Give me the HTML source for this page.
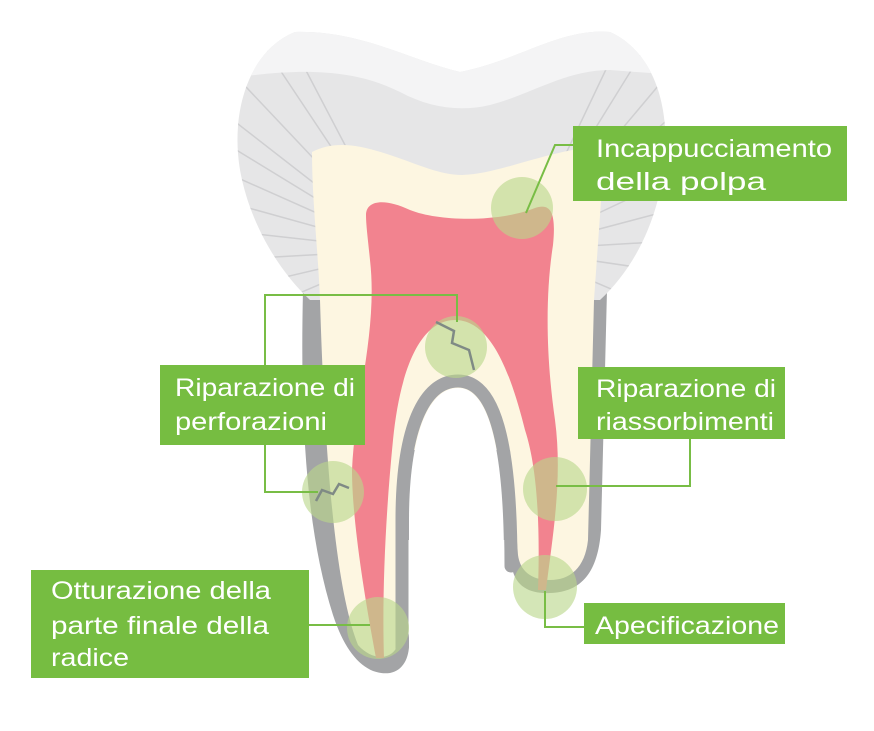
<!DOCTYPE html>
<html><head><meta charset="utf-8"><style>html,body{margin:0;padding:0;background:#fff}svg{display:block}</style></head>
<body>
<svg width="874" height="731" viewBox="0 0 874 731" xmlns="http://www.w3.org/2000/svg">
<defs>
<clipPath id="en"><path d="M295,32 C360,30 410,60 460,72 C520,60 560,28 610,32 C650,50 672,100 664,170 C655,230 630,272 600,300 L310,300 C280,272 250,225 240,170 C230,110 250,50 295,32 Z"/></clipPath>
</defs>
<!-- root grey -->
<path d="M303,290 C300,420 306,530 333,615 C346,655 366,676 390,673 C406,670 412,652 408,630 L402,540 L510,540 L512,568 C516,588 532,594 550,593 C582,592 598,572 601,530 L607,290 Z" fill="#a3a4a6"/>
<!-- enamel -->
<g clip-path="url(#en)">
<rect x="220" y="20" width="460" height="290" fill="#e6e6e7"/>
<g stroke="#cfcfd1" stroke-width="1.5">
<line x1="400" y1="250" x2="260" y2="40"/><line x1="400" y1="250" x2="290" y2="40"/><line x1="400" y1="250" x2="230" y2="70"/>
<line x1="400" y1="250" x2="220" y2="110"/><line x1="400" y1="250" x2="220" y2="140"/><line x1="400" y1="250" x2="220" y2="170"/>
<line x1="400" y1="250" x2="220" y2="200"/><line x1="400" y1="250" x2="220" y2="230"/><line x1="400" y1="250" x2="220" y2="260"/>
<line x1="400" y1="250" x2="230" y2="290"/><line x1="400" y1="250" x2="260" y2="310"/>
<line x1="520" y1="250" x2="620" y2="40"/><line x1="520" y1="250" x2="650" y2="40"/><line x1="520" y1="250" x2="680" y2="60"/>
<line x1="520" y1="250" x2="690" y2="100"/><line x1="520" y1="250" x2="690" y2="135"/><line x1="520" y1="250" x2="690" y2="170"/>
<line x1="520" y1="250" x2="690" y2="205"/><line x1="520" y1="250" x2="690" y2="240"/><line x1="520" y1="250" x2="690" y2="275"/>
<line x1="520" y1="250" x2="660" y2="310"/>
</g>
<path d="M220,20 L690,20 L690,76 L610,70 C565,70 530,95 490,105 C460,112 430,108 400,92 C360,72 310,65 220,80 Z" fill="#f4f4f5"/>
</g>
<!-- dentin -->
<path d="M312,152 C335,140 360,145 390,155 C420,165 440,175 462,175 C500,174 540,152 605,145 L594,300 L588,540 C585,568 570,580 550,580 C530,580 520,570 518,555 L510,450 L405,450 L399,640 C396,660 374,663 358,645 C340,600 326,500 320,300 C318,250 312,200 312,152 Z" fill="#fdf6e1"/>
<!-- pulp -->
<path d="M366,215 C366,200 385,198 410,210 C440,222 500,222 535,208 C552,202 556,215 553,245 C546,290 545,350 555,420 C563,480 552,540 546,590 L538,590 C540,530 538,470 525,430 C510,370 490,320 455,320 C420,320 400,370 393,440 C385,520 382,600 384,658 L376,658 C365,600 352,520 352,470 C355,400 378,330 370,260 C368,240 366,225 366,215 Z" fill="#f2838f"/>
<!-- inner arch -->
<path d="M402,648 L402,520 C402,428 424,381 458,381 C494,381 511,440 511,566" fill="none" stroke="#a3a4a6" stroke-width="13" stroke-linecap="round"/>
<path d="M409,731 L409,520 C409,436 428,388 458,388 C488,388 504,445 504,562 L504,731 Z" fill="#fff"/>
<!-- circles -->
<g fill="#b9d68a" fill-opacity="0.62">
<circle cx="522" cy="208" r="31"/><circle cx="456" cy="347" r="31"/><circle cx="333" cy="492" r="31"/>
<circle cx="555" cy="489" r="32"/><circle cx="545" cy="587" r="32"/><circle cx="378" cy="628" r="31"/>
</g>
<g fill="none" stroke="#7f8a85" stroke-width="2.5">
<polyline points="436,322 454,331 452,343 469,350 474,370"/>
<polyline points="316,501 322,490 333,494 339,484 349,488"/>
</g>
<!-- connectors -->
<g fill="none" stroke="#78bd45" stroke-width="2">
<polyline points="573,145 555,145 526,213"/>
<polyline points="265,365 265,295 457,295 457,322"/>
<polyline points="265,445 265,492 318,492"/>
<polyline points="690,439 690,486 556,486"/>
<polyline points="309,625 370,625"/>
<polyline points="584,627 545,627 545,591"/>
</g>
<!-- boxes -->
<g fill="#76bd41">
<rect x="573" y="126" width="274" height="75"/>
<rect x="160" y="365" width="205" height="80"/>
<rect x="578" y="367" width="207" height="72"/>
<rect x="31" y="570" width="278" height="108"/>
<rect x="584" y="603" width="201" height="41"/>
</g>
<g fill="#fff" font-family="Liberation Sans, sans-serif" font-size="25">
<text x="596" y="157" textLength="236" lengthAdjust="spacingAndGlyphs">Incappucciamento</text>
<text x="596" y="190" textLength="170" lengthAdjust="spacingAndGlyphs">della polpa</text>
<text x="175" y="396" textLength="180" lengthAdjust="spacingAndGlyphs">Riparazione di</text>
<text x="175" y="430" textLength="152" lengthAdjust="spacingAndGlyphs">perforazioni</text>
<text x="596" y="397" textLength="180" lengthAdjust="spacingAndGlyphs">Riparazione di</text>
<text x="596" y="430" textLength="178" lengthAdjust="spacingAndGlyphs">riassorbimenti</text>
<text x="51" y="599" textLength="220" lengthAdjust="spacingAndGlyphs">Otturazione della</text>
<text x="51" y="634" textLength="218" lengthAdjust="spacingAndGlyphs">parte finale della</text>
<text x="51" y="666" textLength="78" lengthAdjust="spacingAndGlyphs">radice</text>
<text x="595" y="634" textLength="184" lengthAdjust="spacingAndGlyphs">Apecificazione</text>
</g>
</svg>
</body></html>
